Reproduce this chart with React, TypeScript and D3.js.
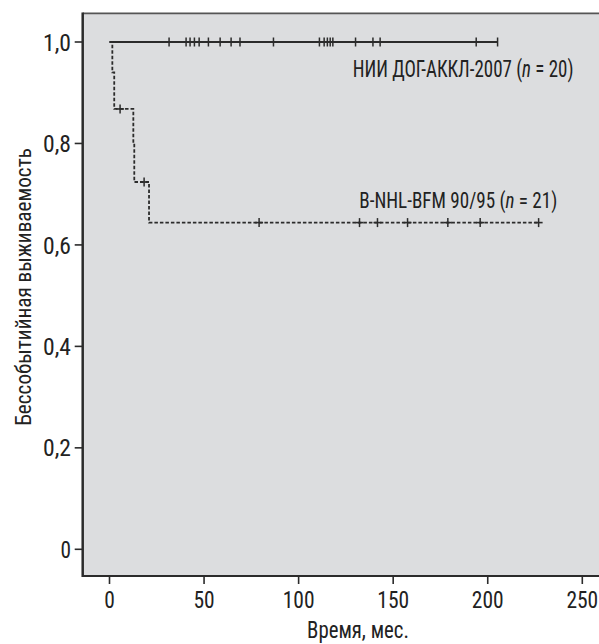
import React, { useLayoutEffect, useRef, useState } from "react";
import * as d3 from "d3";

const timeTicks = [0, 50, 100, 150, 200, 250];
const survTicks = [0, 0.2, 0.4, 0.6, 0.8, 1.0];

// НИИ ДОГ-АККЛ-2007: no events, censored times (months)
const niiCensored = [31.5, 40.5, 42.6, 44.9, 47.4, 52.3, 58.5, 64.3, 69.0, 86.7, 111.0, 113.5, 115.2, 116.7, 118.1, 130.1, 139.3, 143.1, 193.9, 205.2];
const niiEndTime = 205.2;

// B-NHL-BFM 90/95: step times and survival values
const bfmTimes = [0, 1.5, 2.5, 12.6, 13.1, 20.9];
const bfmValues = [1.0, 0.94, 0.868, 0.8, 0.724, 0.644];
const bfmEndTime = 226.9;
const bfmCensored = [5.6, 18.3, 79.1, 132.2, 141.7, 157.6, 178.9, 196.0, 226.9];

const FONT = "'Liberation Sans Narrow', 'Roboto Condensed', 'DejaVu Sans Condensed', Roboto, sans-serif";
const TXT = "#222";

type FitProps = {
  x: number; y: number; width: number; fontSize: number;
  anchor?: "start" | "middle" | "end"; rotate?: number; children: React.ReactNode;
};

function FitText({ x, y, width, fontSize, anchor = "start", rotate, children }: FitProps) {
  const ref = useRef<SVGTextElement>(null);
  const [k, setK] = useState(1);
  useLayoutEffect(() => {
    if (ref.current) {
      const w = ref.current.getComputedTextLength();
      if (w > 0) setK(width / w);
    }
  }, [width]);
  const tr = `translate(${x},${y})${rotate ? ` rotate(${rotate})` : ""} scale(${k},1)`;
  return (
    <text ref={ref} transform={tr} textAnchor={anchor} fontSize={fontSize} fill={TXT}>{children}</text>
  );
}

export default function App() {
  const W = 599, H = 644;
  const x = d3.scaleLinear().domain([0, 250]).range([109.5, 582.3]);
  const y = d3.scaleLinear().domain([0, 1]).range([549.3, 42]);

  const frameL = 82.7, frameT = 13.3, frameB = 576;

  const niiPts: [number, number][] = [[0, 1], [niiEndTime, 1]];
  const bfmPts: [number, number][] = bfmTimes.map((t, i) => [t, bfmValues[i]] as [number, number]);
  bfmPts.push([bfmEndTime, bfmValues[bfmValues.length - 1]]);

  const line = d3.line<[number, number]>().x(d => x(d[0])).y(d => y(d[1])).curve(d3.curveStepAfter);

  const bfmAt = (t: number) => {
    let v = 1;
    for (let i = 0; i < bfmTimes.length; i++) if (bfmTimes[i] <= t) v = bfmValues[i];
    return v;
  };

  const ink = "#2b2b2b";

  return (
    <svg width={W} height={H} style={{ position: "absolute", left: 0, top: 0, background: "#fff" }} fontFamily={FONT}>
      <rect x={frameL} y={frameT} width={W - frameL + 20} height={frameB - frameT} fill="#dcdddf" />
      <line x1={frameL} x2={W} y1={frameT} y2={frameT} stroke="#555" strokeWidth={1.8} />
      <line x1={frameL} x2={frameL} y1={frameT - 0.9} y2={frameB + 1} stroke={ink} strokeWidth={2.5} />
      <line x1={frameL} x2={W} y1={frameB} y2={frameB} stroke={ink} strokeWidth={2.2} />

      {survTicks.map(v => {
        const s = v === 0 ? "0" : v.toFixed(1).replace(".", ",");
        return (
          <g key={"y" + v}>
            <line x1={frameL - 8} x2={frameL} y1={y(v)} y2={y(v)} stroke={ink} strokeWidth={1.6} />
            <FitText x={71} y={y(v) + 8.6} anchor="end" fontSize={24} width={s.length === 1 ? 10.5 : 28}>{s}</FitText>
          </g>
        );
      })}
      {timeTicks.map(t => {
        const s = String(t);
        return (
          <g key={"x" + t}>
            <line x1={x(t)} x2={x(t)} y1={frameB} y2={frameB + 8} stroke={ink} strokeWidth={1.6} />
            <FitText x={x(t)} y={608} anchor="middle" fontSize={24} width={s.length * 10.6}>{s}</FitText>
          </g>
        );
      })}

      <FitText x={358} y={638} anchor="middle" fontSize={23} width={102}>Время, мес.</FitText>
      <FitText x={31} y={287} rotate={-90} anchor="middle" fontSize={23} width={278}>Бессобытийная выживаемость</FitText>

      <path d={line(niiPts) || ""} fill="none" stroke={ink} strokeWidth={1.8} />
      {niiCensored.map((t, i) => (
        <line key={"nc" + i} x1={x(t)} x2={x(t)} y1={y(1) - 4.5} y2={y(1) + 4.5} stroke={ink} strokeWidth={1.5} />
      ))}

      <path d={line(bfmPts) || ""} fill="none" stroke={ink} strokeWidth={1.8} strokeDasharray="3.5,2" />
      {bfmCensored.map((t, i) => (
        <line key={"bc" + i} x1={x(t)} x2={x(t)} y1={y(bfmAt(t)) - 4.5} y2={y(bfmAt(t)) + 4.5} stroke={ink} strokeWidth={1.5} />
      ))}
      {bfmCensored.map((t, i) => (
        <line key={"bh" + i} x1={x(t) - 4} x2={x(t) + 4} y1={y(bfmAt(t))} y2={y(bfmAt(t))} stroke={ink} strokeWidth={1.6} />
      ))}

      <FitText x={352.7} y={77.3} fontSize={23} width={221}>
        НИИ ДОГ-АККЛ-2007 (<tspan fontStyle="italic">n</tspan> = 20)
      </FitText>
      <FitText x={359.3} y={208} fontSize={22.5} width={198}>
        B-NHL-BFM 90/95 (<tspan fontStyle="italic">n</tspan> = 21)
      </FitText>
    </svg>
  );
}
